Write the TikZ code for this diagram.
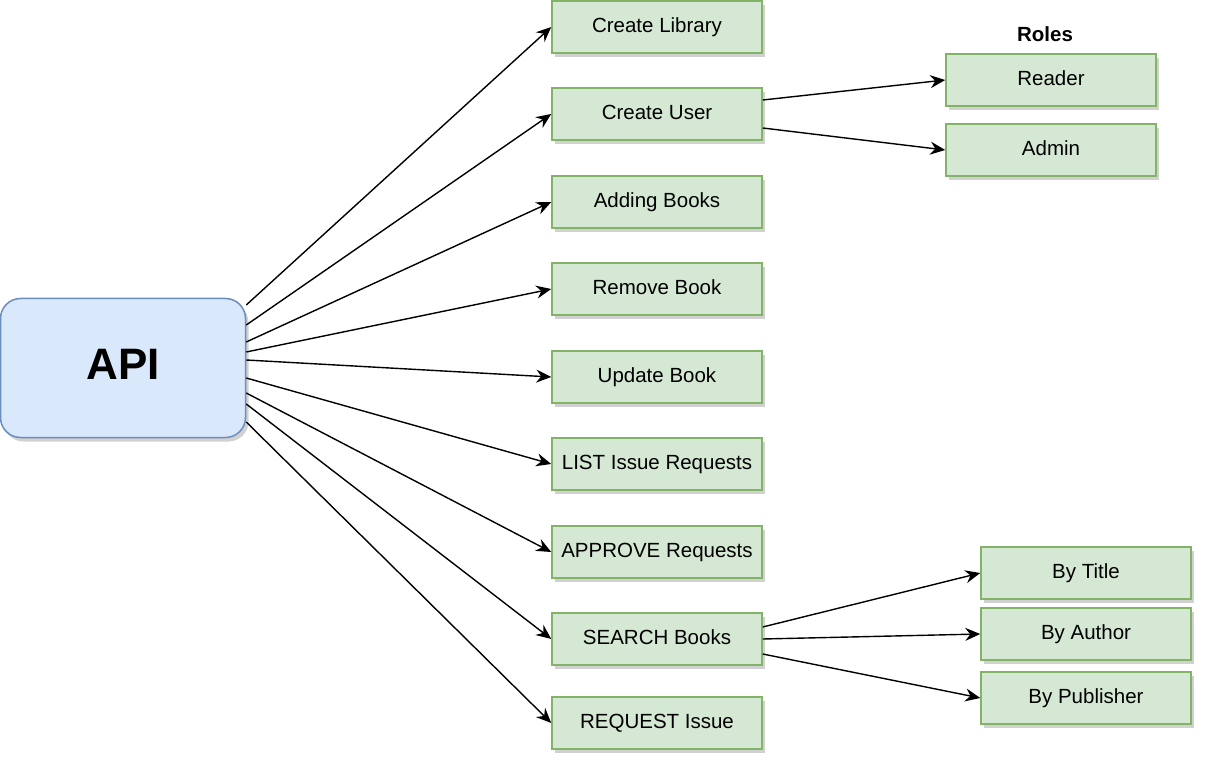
\documentclass[tikz,border=0pt]{standalone}
\usepackage{fontspec}
\setmainfont{Liberation Sans}
\usetikzlibrary{arrows.meta,shadows}
\definecolor{apifill}{HTML}{DAE8FC}
\definecolor{apiline}{HTML}{6C8EBF}
\definecolor{opfill}{HTML}{D5E8D4}
\definecolor{opline}{HTML}{82B366}

\begin{document}
\begin{tikzpicture}[x=1pt,y=-1pt]
    \useasboundingbox (0,0) rectangle (1211,770);
    %\draw[help lines] (0,0) grid (1211,770);
    \tikzset{OpStyle/.style = {%
        shape= rectangle,
        fill= opfill,
        draw= opline,
        line width= 1.5pt,
        minimum width= 210pt,
        minimum height= 52pt,
        text height= 15pt,
        text depth= 4pt,
        font= \fontsize{20.5}{24}\selectfont,
        drop shadow= {shadow xshift=3pt,shadow yshift=-4pt,opacity=0.18,fill=black}},
      ApiStyle/.style = {%
        shape= rectangle,
        rounded corners= 20pt,
        fill= apifill,
        draw= apiline,
        line width= 1.5pt,
        minimum width= 245pt,
        minimum height= 139pt,
        text height= 32pt,
        text depth= 10pt,
        font= \fontsize{44}{50}\selectfont\bfseries,
        drop shadow= {shadow xshift=3pt,shadow yshift=-4pt,opacity=0.18,fill=black}},
      Link/.style = {line width= 1.4pt,-{Stealth[length=15pt,width=13pt,inset=5pt]}}}
    \node[ApiStyle] (api) at (123,368) {API};
    \node[OpStyle] (lib) at (657,27) {Create Library};
    \node[OpStyle] (user) at (657,114) {Create User};
    \node[OpStyle] (add) at (657,202) {Adding Books};
    \node[OpStyle] (remove) at (657,289) {Remove Book};
    \node[OpStyle] (update) at (657,377) {Update Book};
    \node[OpStyle] (list) at (657,464) {LIST Issue Requests};
    \node[OpStyle] (approve) at (657,552) {APPROVE Requests};
    \node[OpStyle] (search) at (657,639) {SEARCH Books};
    \node[OpStyle] (request) at (657,723) {REQUEST Issue};
    % roles
    \node[font=\fontsize{20.5}{24}\selectfont\bfseries] (roles) at (1045,34) {Roles};
    \node[OpStyle] (reader) at (1051,80) {Reader};
    \node[OpStyle] (admin) at (1051,150) {Admin};
    % search keys
    \node[OpStyle] (title) at (1086,573) {By Title};
    \node[OpStyle] (author) at (1086,634) {By Author};
    \node[OpStyle] (publisher) at (1086,698) {By Publisher};
    \draw[Link] ([yshift=63pt]api.east) -- (lib.west);
    \draw[Link] ([yshift=43pt]api.east) -- (user.west);
    \draw[Link] ([yshift=26pt]api.east) -- (add.west);
    \draw[Link] ([yshift=16pt]api.east) -- (remove.west);
    \draw[Link] ([yshift=8pt]api.east) -- (update.west);
    \draw[Link] ([yshift=-10pt]api.east) -- (list.west);
    \draw[Link] ([yshift=-25pt]api.east) -- (approve.west);
    \draw[Link] ([yshift=-36pt]api.east) -- (search.west);
    \draw[Link] ([yshift=-54pt]api.east) -- (request.west);
    \draw[Link] ([yshift=14pt]user.east) -- (reader.west);
    \draw[Link] ([yshift=-14pt]user.east) -- (admin.west);
    \draw[Link] ([yshift=12pt]search.east) -- (title.west);
    \draw[Link] (search.east) -- (author.west);
    \draw[Link] ([yshift=-15pt]search.east) -- (publisher.west);
 \end{tikzpicture}
\end{document}
